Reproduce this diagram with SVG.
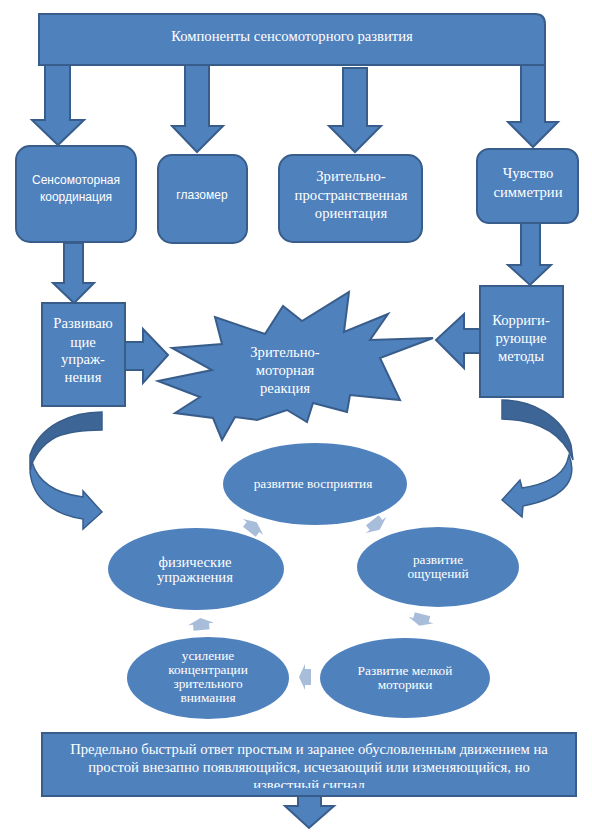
<svg xmlns="http://www.w3.org/2000/svg" width="592" height="839" viewBox="0 0 592 839">
<style>
.b{fill:#4f81bd;stroke:#385d8a;stroke-width:2;stroke-linejoin:miter}
.e{fill:#4f81bd}
.dk{fill:#3d6595;stroke:#385d8a;stroke-width:1.5}
.lt{fill:#4f81bd;stroke:#385d8a;stroke-width:1.5}
.la{fill:#a8bdda}
.t{font-family:"Liberation Serif","Times New Roman",serif;font-size:14.67px;fill:#fff;text-anchor:middle}
.s{font-family:"Liberation Sans",Arial,sans-serif;font-size:12px;fill:#fff;text-anchor:middle}
.m{font-size:13.33px}
</style>
<defs>
<polygon id="sa" points="-6,-8 0,-8 0,-13 6,0 0,13 0,8 -6,8"/>
<clipPath id="bc"><rect x="43" y="734" width="532" height="54"/></clipPath>
</defs>
<rect width="592" height="839" fill="#fff"/>

<g id="connectors">
<polygon class="b" points="45,65 70,65 70,120 84,120 58,145 32,120 45,120"/>
<polygon class="b" points="185,65 209,65 209,126 223,126 197,152 172,126 185,126"/>
<polygon class="b" points="343,68 367,68 367,126 381,126 355,152 329,126 343,126"/>
<polygon class="b" points="521,65 545,65 545,122 558,122 533,147 508,122 521,122"/>
<polygon class="b" points="64,243 83,243 83,283 94,283 74,303 53,283 64,283"/>
<polygon class="b" points="521,223 540,223 540,265 551,265 530,285 508,265 521,265"/>
<polygon class="b" points="125,342 143,342 143,329 168,355 143,383 143,370 125,370"/>
<polygon class="b" points="480,329 464,329 464,314 436,340 464,368 464,353 480,353"/>
<path class="dk" d="M102,412 C72,412 40,425 30,455 L30,470 C33,458 42,444 56,437 C70,431 86,430 102,430 Z"/>
<path class="lt" d="M32,462 C37,479 52,493 83,497 L83,491 L102,512 L83,529 L83,519 C55,515 33,500 30,472 Z"/>
<path class="dk" d="M502,400 C532,400 562,416 571,445 L573,460 C565,440 546,420 502,419 Z"/>
<path class="lt" d="M569,455 C577,476 570,497 523,506 L522,517 L502,500 L520,480 L522,488 C548,484 562,475 567,462 Z"/>
<use href="#sa" class="la" transform="translate(253,527) rotate(-52)"/>
<use href="#sa" class="la" transform="translate(376,525) rotate(52)"/>
<use href="#sa" class="la" transform="translate(421,620) rotate(105)"/>
<use href="#sa" class="la" transform="translate(305,677) rotate(180)"/>
<use href="#sa" class="la" transform="translate(201,624) rotate(-95)"/>
<polygon class="b" points="298,796 321,796 321,806 334,806 309,828 285,806 298,806"/>
</g>

<g id="title">
<path class="b" d="M39,14 H535 Q545,14 545,24 V65 H39 Z"/>
<text class="t" x="292" y="41">Компоненты сенсомоторного развития</text>
</g>
<g id="sensomotor">
<rect class="b" x="16" y="146" width="120" height="96" rx="14"/>
<text class="s" x="76" y="184">Сенсомоторная</text>
<text class="s" x="76" y="201">координация</text>
</g>
<g id="glazomer">
<rect class="b" x="158" y="155" width="89" height="88" rx="14"/>
<text class="s" x="202" y="199">глазомер</text>
</g>
<g id="spatial">
<rect class="b" x="279" y="155" width="143" height="87" rx="14"/>
<text class="t" x="351" y="181">Зрительно-</text>
<text class="t" x="351" y="200">пространственная</text>
<text class="t" x="351" y="218">ориентация</text>
</g>
<g id="symmetry">
<rect class="b" x="477" y="149" width="101" height="74" rx="12"/>
<text class="t" x="528" y="178">Чувство</text>
<text class="t" x="528" y="197">симметрии</text>
</g>
<g id="exercises">
<rect class="b" x="42" y="303" width="83" height="103"/>
<text class="t" x="83" y="328">Развиваю</text>
<text class="t" x="83" y="347">щие</text>
<text class="t" x="83" y="364">упраж-</text>
<text class="t" x="83" y="382">нения</text>
</g>
<g id="correcting">
<rect class="b" x="480" y="286" width="83" height="111"/>
<text class="t" x="521" y="325">Корриги-</text>
<text class="t" x="521" y="343">рующие</text>
<text class="t" x="521" y="361">методы</text>
</g>
<g id="reaction">
<polygon class="b" points="158,381 212,370 172,348 222,344 215,317 265,334 283,306 302,321 349,292 344,332 388,314 370,340 433,338 380,358 400,400 350,395 347,412 313,403 307,422 287,410 257,420 235,417 222,440 213,418 175,413 200,397"/>
<text class="t" x="285" y="357">Зрительно-</text>
<text class="t" x="285" y="375">моторная</text>
<text class="t" x="285" y="393">реакция</text>
</g>
<g id="perception">
<ellipse class="e" cx="315" cy="484" rx="92" ry="41"/>
<text class="t m" x="313" y="488">развитие восприятия</text>
</g>
<g id="sensations">
<ellipse class="e" cx="438" cy="567" rx="81" ry="40"/>
<text class="t m" x="438" y="564">развитие</text>
<text class="t m" x="438" y="578">ощущений</text>
</g>
<g id="motorics">
<ellipse class="e" cx="405" cy="678" rx="85" ry="40"/>
<text class="t m" x="405" y="675">Развитие мелкой</text>
<text class="t m" x="405" y="689">моторики</text>
</g>
<g id="attention">
<ellipse class="e" cx="208" cy="678" rx="81" ry="41"/>
<text class="t m" x="208" y="660">усиление</text>
<text class="t m" x="208" y="674">концентрации</text>
<text class="t m" x="208" y="688">зрительного</text>
<text class="t m" x="208" y="702">внимания</text>
</g>
<g id="physical">
<ellipse class="e" cx="196" cy="569" rx="88" ry="41"/>
<text class="t" x="195" y="567">физические</text>
<text class="t" x="195" y="582">упражнения</text>
</g>
<g id="definition">
<rect class="b" x="42" y="733" width="534" height="63"/>
<g clip-path="url(#bc)">
<text class="t" x="309" y="754">Предельно быстрый ответ простым и заранее обусловленным движением на</text>
<text class="t" x="309" y="772">простой внезапно появляющийся, исчезающий или изменяющийся, но</text>
<text class="t" x="309" y="790">известный сигнал</text>
</g>
</g>
</svg>
